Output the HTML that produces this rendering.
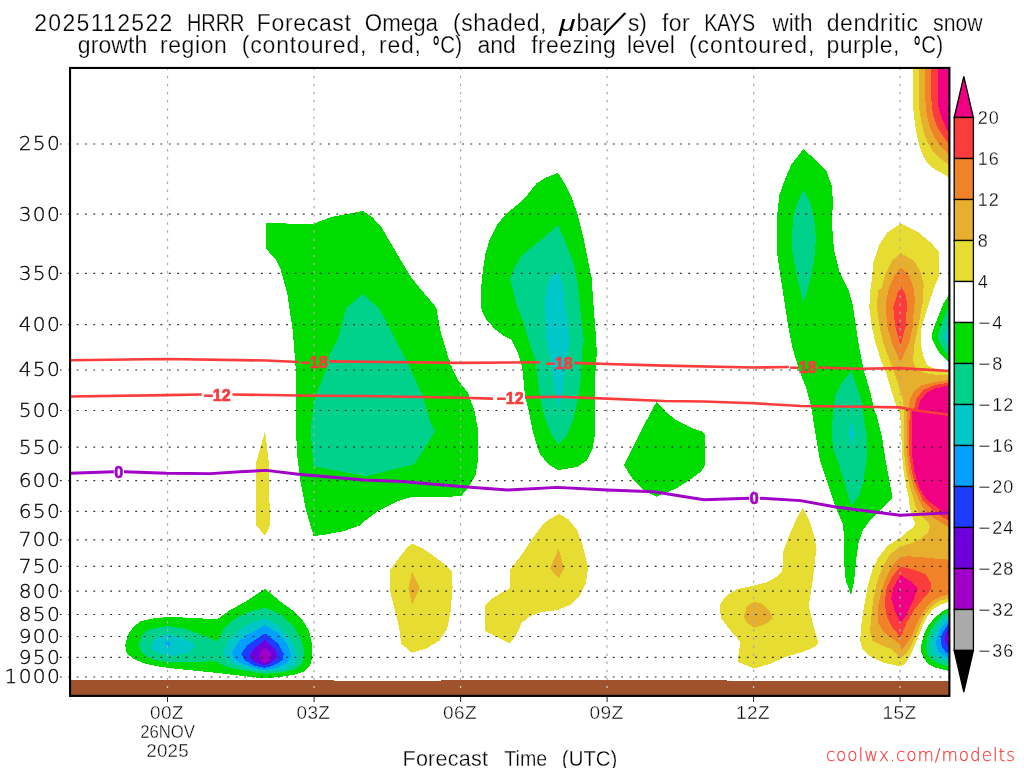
<!DOCTYPE html>
<html lang="en"><head><meta charset="utf-8"><title>HRRR Forecast Omega KAYS</title>
<style>html,body{margin:0;padding:0;background:#fff;overflow:hidden}svg{display:block}</style></head>
<body>
<svg width="1024" height="768" viewBox="0 0 1024 768">
<rect width="1024" height="768" fill="#fff"/>
<clipPath id="pa"><rect x="70.05" y="67.95" width="879.35" height="627.9499999999999"/></clipPath>
<g clip-path="url(#pa)" shape-rendering="crispEdges">
<polygon fill="#00dc00" points="125.1,644.9 128.4,634.0 133.9,626.3 140.4,621.5 151.4,618.7 166.7,617.1 186.4,617.6 206.1,618.7 218.1,618.7 230.1,609.9 245.5,601.8 265.1,588.7 282.6,603.3 293.6,611.0 302.3,619.8 308.9,630.7 311.5,641.6 312.2,656.9 310.0,665.7 304.5,671.2 295.8,674.4 282.6,676.6 265.1,678.4 247.6,676.6 221.4,673.4 199.5,671.2 177.6,669.0 160.1,666.8 144.8,663.5 133.9,659.1 126.9,653.7"/>
<polygon fill="#00d28c" points="138.3,644.9 141.5,636.2 148.1,629.6 166.7,625.9 184.2,628.5 199.5,634.0 210.4,638.3 217.0,641.6 223.6,628.5 234.5,618.7 247.6,612.1 265.1,607.7 280.5,614.3 293.6,626.3 301.2,639.4 304.5,652.6 302.3,663.5 295.8,669.0 282.6,672.3 265.1,673.8 247.6,671.2 230.1,667.9 219.2,663.5 217.0,661.3 208.3,661.3 188.6,662.4 166.7,662.4 151.4,659.1 141.5,652.6"/>
<polygon fill="#00c8c8" points="151.4,644.9 155.8,638.3 166.7,634.0 182.0,637.3 192.9,642.7 195.1,647.1 188.6,652.6 173.3,655.9 160.1,653.7 152.5,649.3"/>
<polygon fill="#00c8c8" points="223.6,652.6 227.9,641.6 238.9,630.7 252.0,621.9 265.1,618.7 278.3,625.2 289.2,637.3 295.8,648.2 298.0,656.9 294.7,664.6 284.8,669.6 265.1,671.6 247.6,669.0 232.3,663.5 225.8,658.0"/>
<polygon fill="#00a0ff" points="165.2,641.6 171.1,641.6 168.2,650.4"/>
<polygon fill="#00a0ff" points="232.3,652.6 237.8,642.7 247.6,634.0 265.1,625.2 278.3,632.9 287.0,643.8 291.4,654.8 288.1,662.4 278.3,667.4 265.1,670.1 252.0,667.4 238.9,662.4 233.4,658.0"/>
<polygon fill="#1e3cff" points="241.1,653.7 247.6,644.9 265.1,633.3 278.3,643.8 283.7,653.7 282.6,660.2 273.9,665.3 265.1,667.9 254.2,665.7 244.4,660.2"/>
<polygon fill="#6e00dc" points="249.8,654.8 254.2,648.2 265.1,639.9 275.0,649.3 277.2,655.9 275.0,660.2 265.1,665.3 255.3,662.4 250.9,659.1"/>
<polygon fill="#a000c8" points="259.0,655.9 261.9,650.4 265.1,648.2 269.5,651.5 271.7,655.9 269.5,660.2 265.1,663.1 260.8,660.9"/>
<polygon fill="#00dc00" points="265.5,223.0 289.6,223.6 313.6,223.6 331.1,217.1 362.9,210.9 372.7,217.5 381.5,227.3 392.4,245.9 409.9,275.5 423.0,291.9 436.1,307.2 440.5,331.3 451.5,368.0 448.1,355.3 452.4,368.4 459.0,381.6 467.8,392.5 474.3,410.0 477.6,427.5 477.6,462.5 475.4,475.6 468.8,486.6 461.2,496.4 411.0,497.1 396.8,501.5 379.3,510.2 367.2,519.0 359.6,525.5 344.3,531.0 324.6,534.7 313.6,536.0 306.0,510.2 300.5,481.8 297.2,455.5 295.7,422.7 295.7,368.0 292.8,331.3 287.4,294.1 280.8,270.0 275.3,259.1 265.5,248.1"/>
<polygon fill="#00d28c" points="330.0,353.1 337.7,340.0 346.4,307.2 362.9,294.1 379.3,308.3 396.8,342.2 409.9,368.0 423.0,396.4 429.6,420.5 435.0,431.4 414.3,464.3 366.1,476.3 313.6,466.4 311.4,440.2 311.4,422.7 314.7,398.6 326.8,368.0"/>
<polygon fill="#e6dc32" points="265.1,431.4 268.8,462.1 269.9,525.5 265.1,536.0 256.3,525.5 256.3,462.1"/>
<polygon fill="#00dc00" points="558.0,172.9 564.6,183.4 571.6,197.5 577.5,213.9 583.3,237.3 588.0,260.8 591.5,277.2 593.2,300.6 596.2,340.0 596.8,353.1 594.6,383.8 594.6,436.3 592.5,449.4 587.0,460.3 577.1,466.9 558.5,470.2 548.7,464.7 539.9,453.8 533.4,434.1 529.0,412.2 525.1,396.9 522.4,368.4 518.1,353.1 511.5,340.0 503.7,335.7 494.3,328.7 486.1,319.3 480.7,307.6 480.9,291.2 482.6,272.5 485.4,253.7 489.6,239.7 496.6,225.6 506.0,213.9 517.7,204.5 527.1,195.1 536.5,183.4 545.9,177.6"/>
<polygon fill="#00d28c" points="558.0,225.1 564.6,239.7 574.0,264.3 577.5,281.9 579.8,305.3 583.8,340.0 582.0,353.1 580.4,383.8 577.1,403.4 572.8,420.9 566.2,436.3 558.5,444.6 550.9,434.1 544.3,416.6 539.9,396.9 535.6,361.9 528.6,340.0 522.4,319.3 516.6,305.3 510.2,278.3 514.2,267.8 522.4,254.9 541.2,239.7"/>
<polygon fill="#00c8c8" points="558.0,272.0 562.3,281.9 564.6,300.6 567.4,321.7 569.8,340.0 566.2,361.9 562.9,390.3 558.5,408.9 555.3,390.3 550.9,361.9 546.5,340.0 544.7,300.6 547.0,286.5 550.5,277.2"/>
<polygon fill="#00dc00" points="656.4,401.9 665.6,411.7 676.6,420.5 691.9,428.1 701.7,431.4 705.0,434.7 705.0,465.3 700.6,471.9 691.9,478.4 676.6,488.3 656.4,496.6 643.8,490.5 632.8,479.5 624.1,465.3 635.0,443.4 645.9,421.6"/>
<polygon fill="#00dc00" points="803.4,149.1 813.3,157.9 826.4,171.0 831.9,186.3 832.9,201.6 831.9,223.5 834.0,249.8 839.5,271.6 848.3,289.1 852.6,304.0 855.9,325.9 859.2,347.8 863.6,369.6 870.1,391.5 874.5,411.2 876.5,414.6 881.9,436.5 885.6,460.2 889.2,480.2 892.0,494.8 892.0,498.4 880.2,510.0 869.8,520.4 862.5,530.8 858.3,543.3 856.2,560.0 854.1,580.8 851.0,595.0 845.8,580.8 844.3,564.2 844.3,543.3 843.1,524.6 838.5,514.2 832.2,497.5 826.0,478.8 819.8,460.0 814.3,426.5 811.1,406.8 806.7,389.3 799.0,369.6 792.5,347.8 788.1,325.9 784.8,304.0 780.4,276.0 777.2,254.1 777.2,214.8 779.3,195.1 784.8,179.8 791.4,164.4"/>
<polygon fill="#00d28c" points="803.4,190.3 810.0,201.6 814.3,219.1 815.9,238.8 814.3,258.5 811.1,276.0 806.7,293.5 803.4,302.3 800.1,289.1 795.8,271.6 792.5,251.9 792.0,234.4 793.6,214.8 797.9,201.6"/>
<polygon fill="#00d28c" points="851.5,370.7 857.0,387.1 861.4,400.3 863.6,417.8 866.9,435.3 866.9,457.1 866.6,460.0 863.5,480.8 859.3,495.4 851.4,505.8 847.9,495.4 842.7,476.7 837.5,460.0 832.9,448.4 831.9,430.9 832.9,413.4 835.1,395.9 841.7,382.8"/>
<polygon fill="#00c8c8" points="851.5,419.9 854.8,433.1 851.5,446.2 848.3,433.1"/>
<polygon fill="#e6dc32" points="412.1,544.0 419.8,546.7 432.9,555.4 446.0,565.3 451.5,570.7 452.6,587.1 450.4,613.4 447.1,628.7 439.4,640.7 426.3,648.4 412.1,652.8 401.2,644.0 399.0,626.5 394.6,609.0 390.2,591.5 390.2,569.6 400.1,556.5 407.7,546.7"/>
<polygon fill="#e6af2d" points="412.1,571.8 419.8,588.2 412.1,604.6 408.4,588.2"/>
<polygon fill="#e6dc32" points="558.7,513.8 568.5,519.3 577.3,530.3 582.7,545.6 588.2,567.4 586.0,582.8 579.5,595.9 570.7,604.6 557.6,610.1 540.1,612.3 529.1,616.7 521.5,623.2 516.0,635.3 509.9,643.6 498.5,637.5 485.4,631.3 485.4,605.1 494.1,597.0 509.9,588.2 509.9,569.6 520.4,556.5 533.5,536.8 544.5,522.6"/>
<polygon fill="#e6af2d" points="558.7,548.8 564.1,568.5 558.7,578.4 549.9,568.5"/>
<polygon fill="#e6dc32" points="802.7,507.5 809.3,520.4 814.5,537.1 816.6,549.6 815.2,558.2 812.5,581.9 808.8,605.6 813.4,625.7 818.5,643.0 813.4,647.5 802.4,652.1 786.0,656.7 769.6,664.0 754.1,668.5 738.3,662.1 738.6,653.0 740.5,642.1 729.5,629.3 721.3,618.4 719.5,607.4 721.3,602.0 727.7,594.7 736.8,589.2 754.1,585.6 767.8,581.9 776.9,576.5 782.4,571.0 783.3,550.9 783.3,551.7 788.5,537.1 795.8,520.4"/>
<polygon fill="#e6af2d" points="754.1,601.6 762.3,603.8 769.6,611.1 772.9,618.4 766.0,623.8 754.1,627.9 746.8,622.9 743.7,616.6 746.8,606.5"/>
<polygon fill="#e6dc32" points="900.8,223.5 918.3,232.3 931.4,243.2 939.0,251.9 939.0,276.0 933.6,289.1 929.4,302.5 924.8,316.6 920.8,330.6 920.8,343.1 923.2,355.6 927.1,365.0 937.2,369.7 949.0,371.2 950.5,371.3 950.5,602.1 948.5,602.1 941.0,604.6 933.5,609.0 927.2,616.5 922.9,625.2 918.5,636.5 914.8,645.2 911.0,654.0 906.0,662.8 900.8,666.5 883.4,662.7 870.1,656.1 862.4,649.4 860.2,640.6 861.7,620.7 864.6,603.0 867.9,585.3 872.3,569.8 879.0,556.5 887.8,545.4 900.5,537.7 906.9,531.7 913.5,527.3 915.1,524.1 914.0,520.8 911.3,514.2 909.7,506.6 909.1,500.0 906.5,487.5 903.8,472.9 902.0,454.7 901.1,427.3 900.2,414.6 895.1,402.5 891.2,390.0 886.5,374.4 881.0,360.3 875.5,343.1 871.6,325.9 869.3,307.2 870.4,290.0 871.2,284.8 873.4,262.9 878.9,245.4 887.6,232.3"/>
<polygon fill="#e6af2d" points="900.8,253.0 913.9,260.7 920.5,271.6 923.7,284.8 922.6,304.0 921.6,307.2 918.5,325.9 914.6,343.1 913.0,360.3 915.4,368.1 924.8,372.8 937.2,375.2 949.0,375.2 950.5,375.2 950.5,598.4 948.5,598.4 939.8,600.9 932.2,605.9 926.0,613.4 921.0,622.8 916.6,634.0 912.2,644.0 907.2,652.8 900.8,658.4 892.3,649.4 881.2,645.0 872.3,640.6 870.1,631.7 871.2,616.2 873.5,598.5 876.8,583.0 882.3,567.5 890.1,554.3 900.4,546.5 912.4,542.7 921.2,538.3 927.7,532.8 929.9,527.3 928.8,523.5 924.4,518.6 919.0,513.1 915.7,506.6 914.0,500.0 910.2,487.5 906.5,472.9 904.2,454.7 903.8,427.3 904.2,410.9 902.9,400.0 899.0,386.9 895.1,374.4 889.6,360.3 883.3,343.1 879.4,325.9 877.1,307.2 877.9,290.0 881.1,289.1 885.5,273.8 892.0,260.7"/>
<polygon fill="#f08228" points="900.8,267.3 909.5,276.0 913.9,289.1 915.0,304.0 913.8,307.2 913.0,325.9 909.1,343.1 900.5,361.9 891.9,343.1 887.2,325.9 885.7,307.2 885.5,304.0 888.7,289.1 894.2,276.0"/>
<polygon fill="#f08228" points="949.0,379.8 934.1,382.2 921.6,385.3 913.8,391.6 909.9,399.4 908.3,410.0 907.1,410.9 906.5,427.3 907.1,454.7 909.3,472.9 913.8,487.5 919.0,500.0 922.2,506.6 927.7,513.1 934.3,518.6 941.9,523.0 949.0,527.3 950.5,527.3 950.5,379.8"/>
<polygon fill="#f08228" points="949.0,559.6 939.7,559.1 924.4,557.4 909.1,556.3 900.4,556.9 892.3,565.3 885.6,578.6 881.2,591.9 877.9,607.4 877.9,622.9 883.4,631.7 892.3,638.4 900.5,645.0 900.8,650.9 904.8,646.5 909.8,639.0 914.8,629.0 919.8,617.8 926.0,607.8 933.5,600.2 941.0,596.5 948.5,594.6 950.5,594.6 950.5,559.6"/>
<polygon fill="#fa3c3c" points="900.8,285.9 905.1,293.5 907.3,304.0 906.8,307.2 905.7,325.9 900.5,345.5 895.1,325.9 893.2,307.2 894.2,304.0 897.5,293.5"/>
<polygon fill="#fa3c3c" points="949.0,382.5 934.1,385.3 923.2,390.0 916.9,397.8 913.8,410.0 909.8,410.9 909.3,427.3 909.3,454.7 912.0,472.9 916.6,487.5 922.9,500.3 928.8,506.6 936.5,513.1 944.1,518.0 949.0,520.8 950.5,520.8 950.5,382.5"/>
<polygon fill="#fa3c3c" points="900.5,566.4 914.4,569.8 925.5,574.2 931.0,583.0 931.0,589.7 923.3,598.5 914.4,609.6 906.7,622.9 900.5,637.3 892.3,627.3 886.7,616.2 884.5,603.0 886.7,587.5 892.3,576.4"/>
<polygon fill="#f00082" points="949.0,385.3 935.7,388.4 926.3,393.1 920.1,400.9 917.7,410.0 912.5,410.9 912.0,427.3 912.0,454.7 914.7,472.9 919.3,487.5 925.7,498.4 934.3,505.5 941.9,510.9 949.0,513.7 950.5,513.7 950.5,385.3"/>
<polygon fill="#f00082" points="900.5,575.3 910.0,580.8 917.7,588.6 912.2,603.0 905.5,616.2 900.5,623.8 894.5,609.6 891.2,598.5 893.4,587.5"/>
<polygon fill="#e6dc32" points="913.1,66.2 913.1,99.1 913.4,110.4 914.8,122.9 916.9,135.4 919.5,145.8 923.1,156.2 927.8,163.5 934.0,168.8 941.3,172.9 948.4,177.1 951.8,178.6 951.1,66.2"/>
<polygon fill="#e6af2d" points="919.1,66.2 919.1,95.9 919.5,110.4 921.0,120.8 923.6,131.2 927.3,141.7 932.0,150.0 938.2,156.8 943.4,160.9 948.4,164.1 951.8,165.8 951.1,66.2"/>
<polygon fill="#f08228" points="925.3,66.2 925.3,94.4 925.7,108.3 927.3,117.7 929.9,127.1 933.5,135.4 938.2,142.7 943.4,149.0 948.4,154.2 951.8,157.3 951.1,66.2"/>
<polygon fill="#fa3c3c" points="931.2,66.2 931.2,92.8 931.8,107.3 933.5,115.6 936.1,124.0 939.8,131.2 943.9,137.5 948.4,143.2 951.8,147.4 951.1,66.2"/>
<polygon fill="#f00082" points="937.7,66.2 937.7,92.8 938.2,106.2 940.3,113.5 942.9,120.8 946.0,127.6 948.4,132.3 951.8,135.9 951.1,66.2"/>
<polygon fill="#00dc00" points="950.5,292.9 948.7,295.2 943.4,303.4 938.2,316.3 934.1,326.9 931.7,335.1 932.3,339.8 937.6,350.3 943.4,357.3 948.7,362.0 950.5,363.2"/>
<polygon fill="#00d28c" points="950.5,303.4 948.7,306.4 945.2,314.0 940.5,326.9 937.6,337.4 941.1,345.6 945.2,351.5 948.7,355.0 950.5,356.2"/>
<polygon fill="#00c8c8" points="950.5,322.2 948.7,324.5 945.8,330.4 942.9,337.4 946.4,343.3 948.7,345.6 950.5,346.8"/>
<polygon fill="#00dc00" points="951.0,607.1 948.5,608.4 942.2,611.5 934.8,617.8 928.5,625.2 924.1,634.0 921.6,642.8 921.0,651.5 923.5,657.8 928.5,664.0 936.0,667.8 943.5,669.6 948.5,670.9 951.0,671.2"/>
<polygon fill="#00d28c" points="951.0,610.9 948.5,612.1 942.2,615.2 936.0,621.5 931.0,629.0 927.2,637.8 926.0,646.5 927.2,654.0 932.2,660.2 939.8,664.0 948.5,666.5 951.0,667.0"/>
<polygon fill="#00c8c8" points="951.0,614.6 948.5,615.9 943.5,619.0 938.5,625.2 934.1,632.8 931.6,640.2 931.0,647.8 933.5,654.0 938.5,658.4 948.5,662.1 951.0,662.8"/>
<polygon fill="#00a0ff" points="951.0,618.4 948.5,620.2 944.1,624.0 939.8,630.2 936.6,637.8 936.0,645.2 938.5,651.5 943.5,655.9 948.5,657.8 951.0,658.4"/>
<polygon fill="#1e3cff" points="951.0,621.5 948.5,624.0 944.8,629.0 941.6,635.2 940.8,641.5 942.2,647.8 946.0,652.1 948.5,653.4 951.0,654.0"/>
<polygon fill="#6e00dc" points="951.0,625.2 948.5,627.8 946.0,632.8 944.8,639.0 946.0,644.0 948.5,646.5 951.0,647.8"/>
<polygon fill="#a000c8" points="951.0,630.2 948.5,632.8 947.0,637.8 948.5,642.8 951.0,645.2"/>
</g>
<g fill="none">
<line x1="59.9" y1="144.0" x2="949.4" y2="144.0" stroke="#2a2a2a" stroke-width="1.2" stroke-dasharray="1.8 6.578"/>
<line x1="59.9" y1="214.1" x2="949.4" y2="214.1" stroke="#2a2a2a" stroke-width="1.2" stroke-dasharray="1.8 6.578"/>
<line x1="59.9" y1="273.4" x2="949.4" y2="273.4" stroke="#2a2a2a" stroke-width="1.2" stroke-dasharray="1.8 6.578"/>
<line x1="59.9" y1="324.7" x2="949.4" y2="324.7" stroke="#2a2a2a" stroke-width="1.2" stroke-dasharray="1.8 6.578"/>
<line x1="59.9" y1="370.0" x2="949.4" y2="370.0" stroke="#2a2a2a" stroke-width="1.2" stroke-dasharray="1.8 6.578"/>
<line x1="59.9" y1="410.5" x2="949.4" y2="410.5" stroke="#2a2a2a" stroke-width="1.2" stroke-dasharray="1.8 6.578"/>
<line x1="59.9" y1="447.2" x2="949.4" y2="447.2" stroke="#2a2a2a" stroke-width="1.2" stroke-dasharray="1.8 6.578"/>
<line x1="59.9" y1="480.6" x2="949.4" y2="480.6" stroke="#2a2a2a" stroke-width="1.2" stroke-dasharray="1.8 6.578"/>
<line x1="59.9" y1="511.4" x2="949.4" y2="511.4" stroke="#2a2a2a" stroke-width="1.2" stroke-dasharray="1.8 6.578"/>
<line x1="59.9" y1="539.9" x2="949.4" y2="539.9" stroke="#2a2a2a" stroke-width="1.2" stroke-dasharray="1.8 6.578"/>
<line x1="59.9" y1="566.4" x2="949.4" y2="566.4" stroke="#2a2a2a" stroke-width="1.2" stroke-dasharray="1.8 6.578"/>
<line x1="59.9" y1="591.2" x2="949.4" y2="591.2" stroke="#2a2a2a" stroke-width="1.2" stroke-dasharray="1.8 6.578"/>
<line x1="59.9" y1="614.5" x2="949.4" y2="614.5" stroke="#2a2a2a" stroke-width="1.2" stroke-dasharray="1.8 6.578"/>
<line x1="59.9" y1="636.5" x2="949.4" y2="636.5" stroke="#2a2a2a" stroke-width="1.2" stroke-dasharray="1.8 6.578"/>
<line x1="59.9" y1="657.3" x2="949.4" y2="657.3" stroke="#2a2a2a" stroke-width="1.2" stroke-dasharray="1.8 6.578"/>
<line x1="59.9" y1="677.0" x2="949.4" y2="677.0" stroke="#2a2a2a" stroke-width="1.2" stroke-dasharray="1.8 6.578"/>
<line x1="167.53" y1="67.55" x2="167.53" y2="695.9" stroke="#acacac" stroke-width="1.2" stroke-dasharray="2.5 5.6375"/>
<line x1="314.05" y1="67.55" x2="314.05" y2="695.9" stroke="#acacac" stroke-width="1.2" stroke-dasharray="2.5 5.6375"/>
<line x1="460.57" y1="67.55" x2="460.57" y2="695.9" stroke="#acacac" stroke-width="1.2" stroke-dasharray="2.5 5.6375"/>
<line x1="607.09" y1="67.55" x2="607.09" y2="695.9" stroke="#acacac" stroke-width="1.2" stroke-dasharray="2.5 5.6375"/>
<line x1="753.61" y1="67.55" x2="753.61" y2="695.9" stroke="#acacac" stroke-width="1.2" stroke-dasharray="2.5 5.6375"/>
<line x1="900.13" y1="67.55" x2="900.13" y2="695.9" stroke="#acacac" stroke-width="1.2" stroke-dasharray="2.5 5.6375"/>
</g>
<g clip-path="url(#pa)">
<polyline points="69,360.2 166.5,359 266.2,360.5 298.4,362" fill="none" stroke="#fa3c3c" stroke-width="2.6" stroke-linejoin="round" stroke-linecap="butt"/>
<polyline points="329.2,361.4 364,361.7 460.7,362.9 539.8,362.3" fill="none" stroke="#fa3c3c" stroke-width="2.6" stroke-linejoin="round" stroke-linecap="butt"/>
<polyline points="574.4,362.9 607.2,364 664,365.6 753.6,367.5 788.8,367" fill="none" stroke="#fa3c3c" stroke-width="2.6" stroke-linejoin="round" stroke-linecap="butt"/>
<polyline points="818,367.5 859,368.7 900,368.1 950,371" fill="none" stroke="#fa3c3c" stroke-width="2.6" stroke-linejoin="round" stroke-linecap="butt"/>
<polyline points="69,396.5 166.5,395.1 201.7,394.5" fill="none" stroke="#fa3c3c" stroke-width="2.6" stroke-linejoin="round" stroke-linecap="butt"/>
<polyline points="232.5,394.5 316,395.7 364,396 460.7,397.7 492.9,398.6" fill="none" stroke="#fa3c3c" stroke-width="2.6" stroke-linejoin="round" stroke-linecap="butt"/>
<polyline points="525.1,397.4 558.8,396.8 607.2,398.6 664,401 703.8,401.5 753.6,403.3 800.5,406 859,406.8 900,407.4 911.8,409.7 950,415" fill="none" stroke="#fa3c3c" stroke-width="2.6" stroke-linejoin="round" stroke-linecap="butt"/>
<polyline points="69,473.3 113.8,471.8" fill="none" stroke="#a000c8" stroke-width="2.9" stroke-linejoin="round" stroke-linecap="butt"/>
<polyline points="124,471.8 166.5,473.3 210.5,473.6 239.8,471.8 266.2,470.4 298.4,474.2 364,480 402,481.5 460.7,486.5 507.6,490 557.4,487.4 607.2,490 654,491.8 703.8,499.7 749.2,498.2" fill="none" stroke="#a000c8" stroke-width="2.9" stroke-linejoin="round" stroke-linecap="butt"/>
<polyline points="760,498.2 800.5,500.6 835.7,507 859,510 900,515.2 950,512.9" fill="none" stroke="#a000c8" stroke-width="2.9" stroke-linejoin="round" stroke-linecap="butt"/>
</g>
<text x="314" y="367.6" font-family="'Liberation Sans', sans-serif" font-weight="bold" font-size="16" fill="#fa3c3c" stroke="#fa3c3c" stroke-width="0.7" stroke-linejoin="round" text-anchor="middle">−18</text>
<text x="559.2" y="368.6" font-family="'Liberation Sans', sans-serif" font-weight="bold" font-size="16" fill="#fa3c3c" stroke="#fa3c3c" stroke-width="0.7" stroke-linejoin="round" text-anchor="middle">−18</text>
<text x="803" y="372.7" font-family="'Liberation Sans', sans-serif" font-weight="bold" font-size="16" fill="#fa3c3c" stroke="#fa3c3c" stroke-width="0.7" stroke-linejoin="round" text-anchor="middle">−18</text>
<text x="217" y="400.7" font-family="'Liberation Sans', sans-serif" font-weight="bold" font-size="16" fill="#fa3c3c" stroke="#fa3c3c" stroke-width="0.7" stroke-linejoin="round" text-anchor="middle">−12</text>
<text x="510" y="404.3" font-family="'Liberation Sans', sans-serif" font-weight="bold" font-size="16" fill="#fa3c3c" stroke="#fa3c3c" stroke-width="0.7" stroke-linejoin="round" text-anchor="middle">−12</text>
<text x="118.8" y="477.5" font-family="'Liberation Sans', sans-serif" font-weight="bold" font-size="16" fill="#a000c8" stroke="#a000c8" stroke-width="0.7" stroke-linejoin="round" text-anchor="middle">0</text>
<text x="754.3" y="503.9" font-family="'Liberation Sans', sans-serif" font-weight="bold" font-size="16" fill="#a000c8" stroke="#a000c8" stroke-width="0.7" stroke-linejoin="round" text-anchor="middle">0</text>
<polygon fill="#a0522d" shape-rendering="crispEdges" points="70.05,679.7 334,679.7 334,680.8 441,680.8 441,679.7 727,679.7 727,680.7 949.4,680.7 949.4,695.9 70.05,695.9"/>
<line x1="167.5" y1="686" x2="167.5" y2="688" stroke="#c8c8c8" stroke-width="1.3"/>
<line x1="314.1" y1="686" x2="314.1" y2="688" stroke="#c8c8c8" stroke-width="1.3"/>
<line x1="460.6" y1="686" x2="460.6" y2="688" stroke="#c8c8c8" stroke-width="1.3"/>
<line x1="607.1" y1="686" x2="607.1" y2="688" stroke="#c8c8c8" stroke-width="1.3"/>
<line x1="753.6" y1="686" x2="753.6" y2="688" stroke="#c8c8c8" stroke-width="1.3"/>
<line x1="900.1" y1="686" x2="900.1" y2="688" stroke="#c8c8c8" stroke-width="1.3"/>
<rect x="70.05" y="67.95" width="879.35" height="627.9499999999999" fill="none" stroke="#000" stroke-width="2.1"/>
<line x1="167.5" y1="695.9" x2="167.5" y2="702" stroke="#222" stroke-width="1.0"/>
<line x1="314.1" y1="695.9" x2="314.1" y2="702" stroke="#222" stroke-width="1.0"/>
<line x1="460.6" y1="695.9" x2="460.6" y2="702" stroke="#222" stroke-width="1.0"/>
<line x1="607.1" y1="695.9" x2="607.1" y2="702" stroke="#222" stroke-width="1.0"/>
<line x1="753.6" y1="695.9" x2="753.6" y2="702" stroke="#222" stroke-width="1.0"/>
<line x1="900.1" y1="695.9" x2="900.1" y2="702" stroke="#222" stroke-width="1.0"/>
<g stroke="#000" stroke-width="1.3" stroke-linejoin="miter">
<polygon fill="#f00082" points="954.2,117.5 963.8,76.5 973.4,117.5"/>
<rect x="954.2" y="117.5" width="19.2" height="41.0" fill="#fa3c3c"/>
<rect x="954.2" y="158.5" width="19.2" height="41.0" fill="#f08228"/>
<rect x="954.2" y="199.5" width="19.2" height="41.0" fill="#e6af2d"/>
<rect x="954.2" y="240.5" width="19.2" height="41.0" fill="#e6dc32"/>
<rect x="954.2" y="281.5" width="19.2" height="41.0" fill="#fff"/>
<rect x="954.2" y="322.5" width="19.2" height="41.0" fill="#00dc00"/>
<rect x="954.2" y="363.5" width="19.2" height="41.0" fill="#00d28c"/>
<rect x="954.2" y="404.5" width="19.2" height="41.0" fill="#00c8c8"/>
<rect x="954.2" y="445.5" width="19.2" height="41.0" fill="#00a0ff"/>
<rect x="954.2" y="486.5" width="19.2" height="41.0" fill="#1e3cff"/>
<rect x="954.2" y="527.5" width="19.2" height="41.0" fill="#6e00dc"/>
<rect x="954.2" y="568.5" width="19.2" height="41.0" fill="#a000c8"/>
<rect x="954.2" y="609.5" width="19.2" height="41.0" fill="#aaaaaa"/>
<polygon fill="#000" points="954.2,650.5 963.8,692 973.4,650.5"/>
</g>
<text x="61.0" y="150.4" font-size="20.2" fill="#000" font-family="'DejaVu Sans Light', sans-serif" text-anchor="end" font-weight="200" letter-spacing="1.25" stroke="#000" stroke-width="0.3">250</text>
<text x="61.0" y="220.5" font-size="20.2" fill="#000" font-family="'DejaVu Sans Light', sans-serif" text-anchor="end" font-weight="200" letter-spacing="1.25" stroke="#000" stroke-width="0.3">300</text>
<text x="61.0" y="279.8" font-size="20.2" fill="#000" font-family="'DejaVu Sans Light', sans-serif" text-anchor="end" font-weight="200" letter-spacing="1.25" stroke="#000" stroke-width="0.3">350</text>
<text x="61.0" y="331.1" font-size="20.2" fill="#000" font-family="'DejaVu Sans Light', sans-serif" text-anchor="end" font-weight="200" letter-spacing="1.25" stroke="#000" stroke-width="0.3">400</text>
<text x="61.0" y="376.4" font-size="20.2" fill="#000" font-family="'DejaVu Sans Light', sans-serif" text-anchor="end" font-weight="200" letter-spacing="1.25" stroke="#000" stroke-width="0.3">450</text>
<text x="61.0" y="416.9" font-size="20.2" fill="#000" font-family="'DejaVu Sans Light', sans-serif" text-anchor="end" font-weight="200" letter-spacing="1.25" stroke="#000" stroke-width="0.3">500</text>
<text x="61.0" y="453.6" font-size="20.2" fill="#000" font-family="'DejaVu Sans Light', sans-serif" text-anchor="end" font-weight="200" letter-spacing="1.25" stroke="#000" stroke-width="0.3">550</text>
<text x="61.0" y="487.0" font-size="20.2" fill="#000" font-family="'DejaVu Sans Light', sans-serif" text-anchor="end" font-weight="200" letter-spacing="1.25" stroke="#000" stroke-width="0.3">600</text>
<text x="61.0" y="517.8" font-size="20.2" fill="#000" font-family="'DejaVu Sans Light', sans-serif" text-anchor="end" font-weight="200" letter-spacing="1.25" stroke="#000" stroke-width="0.3">650</text>
<text x="61.0" y="546.3" font-size="20.2" fill="#000" font-family="'DejaVu Sans Light', sans-serif" text-anchor="end" font-weight="200" letter-spacing="1.25" stroke="#000" stroke-width="0.3">700</text>
<text x="61.0" y="572.8" font-size="20.2" fill="#000" font-family="'DejaVu Sans Light', sans-serif" text-anchor="end" font-weight="200" letter-spacing="1.25" stroke="#000" stroke-width="0.3">750</text>
<text x="61.0" y="597.6" font-size="20.2" fill="#000" font-family="'DejaVu Sans Light', sans-serif" text-anchor="end" font-weight="200" letter-spacing="1.25" stroke="#000" stroke-width="0.3">800</text>
<text x="61.0" y="620.9" font-size="20.2" fill="#000" font-family="'DejaVu Sans Light', sans-serif" text-anchor="end" font-weight="200" letter-spacing="1.25" stroke="#000" stroke-width="0.3">850</text>
<text x="61.0" y="642.9" font-size="20.2" fill="#000" font-family="'DejaVu Sans Light', sans-serif" text-anchor="end" font-weight="200" letter-spacing="1.25" stroke="#000" stroke-width="0.3">900</text>
<text x="61.0" y="663.7" font-size="20.2" fill="#000" font-family="'DejaVu Sans Light', sans-serif" text-anchor="end" font-weight="200" letter-spacing="1.25" stroke="#000" stroke-width="0.3">950</text>
<text x="61.0" y="683.4" font-size="20.2" fill="#000" font-family="'DejaVu Sans Light', sans-serif" text-anchor="end" font-weight="200" letter-spacing="1.25" stroke="#000" stroke-width="0.3">1000</text>
<text x="977.7" y="124.1" font-size="18" fill="#000" font-family="'Liberation Sans', sans-serif" stroke="#fff" stroke-width="0.3" paint-order="fill" letter-spacing="1.0">20</text>
<text x="977.7" y="165.1" font-size="18" fill="#000" font-family="'Liberation Sans', sans-serif" stroke="#fff" stroke-width="0.3" paint-order="fill" letter-spacing="1.0">16</text>
<text x="977.7" y="206.1" font-size="18" fill="#000" font-family="'Liberation Sans', sans-serif" stroke="#fff" stroke-width="0.3" paint-order="fill" letter-spacing="1.0">12</text>
<text x="977.7" y="247.1" font-size="18" fill="#000" font-family="'Liberation Sans', sans-serif" stroke="#fff" stroke-width="0.3" paint-order="fill" letter-spacing="1.0">8</text>
<text x="977.7" y="288.1" font-size="18" fill="#000" font-family="'Liberation Sans', sans-serif" stroke="#fff" stroke-width="0.3" paint-order="fill" letter-spacing="1.0">4</text>
<text font-family="'Liberation Sans', sans-serif" fill="#000"><tspan x="978.2" y="329.1" font-size="18" textLength="12.2" lengthAdjust="spacingAndGlyphs" stroke="#fff" stroke-width="0.3" paint-order="fill">−</tspan><tspan x="992.3" y="329.1" font-size="18" stroke="#fff" stroke-width="0.3" paint-order="fill" letter-spacing="1.0">4</tspan></text>
<text font-family="'Liberation Sans', sans-serif" fill="#000"><tspan x="978.2" y="370.1" font-size="18" textLength="12.2" lengthAdjust="spacingAndGlyphs" stroke="#fff" stroke-width="0.3" paint-order="fill">−</tspan><tspan x="992.3" y="370.1" font-size="18" stroke="#fff" stroke-width="0.3" paint-order="fill" letter-spacing="1.0">8</tspan></text>
<text font-family="'Liberation Sans', sans-serif" fill="#000"><tspan x="978.2" y="411.1" font-size="18" textLength="12.2" lengthAdjust="spacingAndGlyphs" stroke="#fff" stroke-width="0.3" paint-order="fill">−</tspan><tspan x="992.3" y="411.1" font-size="18" stroke="#fff" stroke-width="0.3" paint-order="fill" letter-spacing="1.0">12</tspan></text>
<text font-family="'Liberation Sans', sans-serif" fill="#000"><tspan x="978.2" y="452.1" font-size="18" textLength="12.2" lengthAdjust="spacingAndGlyphs" stroke="#fff" stroke-width="0.3" paint-order="fill">−</tspan><tspan x="992.3" y="452.1" font-size="18" stroke="#fff" stroke-width="0.3" paint-order="fill" letter-spacing="1.0">16</tspan></text>
<text font-family="'Liberation Sans', sans-serif" fill="#000"><tspan x="978.2" y="493.1" font-size="18" textLength="12.2" lengthAdjust="spacingAndGlyphs" stroke="#fff" stroke-width="0.3" paint-order="fill">−</tspan><tspan x="992.3" y="493.1" font-size="18" stroke="#fff" stroke-width="0.3" paint-order="fill" letter-spacing="1.0">20</tspan></text>
<text font-family="'Liberation Sans', sans-serif" fill="#000"><tspan x="978.2" y="534.1" font-size="18" textLength="12.2" lengthAdjust="spacingAndGlyphs" stroke="#fff" stroke-width="0.3" paint-order="fill">−</tspan><tspan x="992.3" y="534.1" font-size="18" stroke="#fff" stroke-width="0.3" paint-order="fill" letter-spacing="1.0">24</tspan></text>
<text font-family="'Liberation Sans', sans-serif" fill="#000"><tspan x="978.2" y="575.1" font-size="18" textLength="12.2" lengthAdjust="spacingAndGlyphs" stroke="#fff" stroke-width="0.3" paint-order="fill">−</tspan><tspan x="992.3" y="575.1" font-size="18" stroke="#fff" stroke-width="0.3" paint-order="fill" letter-spacing="1.0">28</tspan></text>
<text font-family="'Liberation Sans', sans-serif" fill="#000"><tspan x="978.2" y="616.1" font-size="18" textLength="12.2" lengthAdjust="spacingAndGlyphs" stroke="#fff" stroke-width="0.3" paint-order="fill">−</tspan><tspan x="992.3" y="616.1" font-size="18" stroke="#fff" stroke-width="0.3" paint-order="fill" letter-spacing="1.0">32</tspan></text>
<text font-family="'Liberation Sans', sans-serif" fill="#000"><tspan x="978.2" y="657.1" font-size="18" textLength="12.2" lengthAdjust="spacingAndGlyphs" stroke="#fff" stroke-width="0.3" paint-order="fill">−</tspan><tspan x="992.3" y="657.1" font-size="18" stroke="#fff" stroke-width="0.3" paint-order="fill" letter-spacing="1.0">36</tspan></text>
<text x="166.9" y="718.8" font-size="19" fill="#000" font-family="'Liberation Sans', sans-serif" text-anchor="middle" stroke="#fff" stroke-width="0.4" paint-order="fill" letter-spacing="0.4">00Z</text>
<text x="313.4" y="718.8" font-size="19" fill="#000" font-family="'Liberation Sans', sans-serif" text-anchor="middle" stroke="#fff" stroke-width="0.4" paint-order="fill" letter-spacing="0.4">03Z</text>
<text x="460.0" y="718.8" font-size="19" fill="#000" font-family="'Liberation Sans', sans-serif" text-anchor="middle" stroke="#fff" stroke-width="0.4" paint-order="fill" letter-spacing="0.4">06Z</text>
<text x="606.5" y="718.8" font-size="19" fill="#000" font-family="'Liberation Sans', sans-serif" text-anchor="middle" stroke="#fff" stroke-width="0.4" paint-order="fill" letter-spacing="0.4">09Z</text>
<text x="753.0" y="718.8" font-size="19" fill="#000" font-family="'Liberation Sans', sans-serif" text-anchor="middle" stroke="#fff" stroke-width="0.4" paint-order="fill" letter-spacing="0.4">12Z</text>
<text x="899.5" y="718.8" font-size="19" fill="#000" font-family="'Liberation Sans', sans-serif" text-anchor="middle" stroke="#fff" stroke-width="0.4" paint-order="fill" letter-spacing="0.4">15Z</text>
<text x="140.2" y="738.0" font-size="18.8" fill="#000" font-family="'Liberation Sans', sans-serif" textLength="54.8" lengthAdjust="spacingAndGlyphs" stroke="#fff" stroke-width="0.4" paint-order="fill" >26NOV</text>
<text x="167.6" y="757.0" font-size="18.8" fill="#000" font-family="'Liberation Sans', sans-serif" text-anchor="middle" stroke="#fff" stroke-width="0.4" paint-order="fill" letter-spacing="0.2">2025</text>
<text font-family="'Liberation Sans', sans-serif" fill="#000"><tspan x="402.46" y="765.5" font-size="21.6" stroke="#fff" stroke-width="0.3" paint-order="fill" letter-spacing="0.234">Forecast</tspan> <tspan x="504.3" y="765.5" font-size="21.6" textLength="42.88" lengthAdjust="spacingAndGlyphs" stroke="#fff" stroke-width="0.3" paint-order="fill">Time</tspan> <tspan x="561.86" y="765.5" font-size="21.6" textLength="55.52" lengthAdjust="spacingAndGlyphs" stroke="#fff" stroke-width="0.3" paint-order="fill">(UTC)</tspan></text>
<text x="825.9" y="760.8" font-size="16.8" fill="#fa3c3c" font-family="'DejaVu Sans Light', sans-serif" textLength="189.0" lengthAdjust="spacing" font-weight="200" stroke="#fa3c3c" stroke-width="0.25">coolwx.com/modelts</text>
<text font-family="'Liberation Sans', sans-serif" fill="#000"><tspan x="34.25" y="30.6" font-size="23" stroke="#fff" stroke-width="0.25" paint-order="fill" letter-spacing="1.315">2025112522</tspan> <tspan x="186.88" y="30.6" font-size="23" textLength="57.65" lengthAdjust="spacingAndGlyphs" stroke="#fff" stroke-width="0.25" paint-order="fill">HRRR</tspan> <tspan x="256.75" y="30.6" font-size="23" stroke="#fff" stroke-width="0.25" paint-order="fill" letter-spacing="0.667">Forecast</tspan> <tspan x="364.78" y="30.6" font-size="23" textLength="73.27" lengthAdjust="spacingAndGlyphs" stroke="#fff" stroke-width="0.25" paint-order="fill">Omega</tspan> <tspan x="453.0" y="30.6" font-size="23" stroke="#fff" stroke-width="0.25" paint-order="fill" letter-spacing="0.555">(shaded,</tspan> <tspan x="559.0" y="30.6" font-size="23" textLength="16.5" lengthAdjust="spacingAndGlyphs" font-style="italic">μ</tspan><tspan x="576.5" y="30.6" font-size="23" stroke="#fff" stroke-width="0.25" paint-order="fill" letter-spacing="0.208">bar</tspan><tspan x="602.3" y="34.3" font-size="42" stroke="#fff" stroke-width="1.0" paint-order="fill" rotate="29">/</tspan><tspan x="628.0" y="30.6" font-size="23" textLength="18.9" lengthAdjust="spacingAndGlyphs" stroke="#fff" stroke-width="0.25" paint-order="fill">s)</tspan> <tspan x="662.0" y="30.6" font-size="23" stroke="#fff" stroke-width="0.25" paint-order="fill" letter-spacing="0.409">for</tspan> <tspan x="704.14" y="30.6" font-size="23" textLength="51.15" lengthAdjust="spacingAndGlyphs" stroke="#fff" stroke-width="0.25" paint-order="fill">KAYS</tspan> <tspan x="772.48" y="30.6" font-size="23" textLength="40.05" lengthAdjust="spacingAndGlyphs" stroke="#fff" stroke-width="0.25" paint-order="fill">with</tspan> <tspan x="826.75" y="30.6" font-size="23" stroke="#fff" stroke-width="0.25" paint-order="fill" letter-spacing="0.539">dendritic</tspan> <tspan x="933.0" y="30.6" font-size="23" textLength="49.64" lengthAdjust="spacingAndGlyphs" stroke="#fff" stroke-width="0.25" paint-order="fill">snow</tspan></text>
<text font-family="'Liberation Sans', sans-serif" fill="#000"><tspan x="77.75" y="53.2" font-size="23" stroke="#fff" stroke-width="0.25" paint-order="fill" letter-spacing="0.102">growth</tspan> <tspan x="160.0" y="53.2" font-size="23" stroke="#fff" stroke-width="0.25" paint-order="fill" letter-spacing="0.571">region</tspan> <tspan x="241.75" y="53.2" font-size="23" stroke="#fff" stroke-width="0.25" paint-order="fill" letter-spacing="0.829">(contoured,</tspan> <tspan x="379.0" y="53.2" font-size="23" stroke="#fff" stroke-width="0.25" paint-order="fill" letter-spacing="0.753">red,</tspan> <tspan x="432.6" y="58.6" font-size="34" textLength="7.35" lengthAdjust="spacingAndGlyphs" stroke="#000" stroke-width="0.25">°</tspan><tspan x="440.36" y="53.2" font-size="23" textLength="21.63" lengthAdjust="spacingAndGlyphs" stroke="#fff" stroke-width="0.25" paint-order="fill">C)</tspan> <tspan x="477.5" y="53.2" font-size="23" textLength="38.29" lengthAdjust="spacingAndGlyphs" stroke="#fff" stroke-width="0.25" paint-order="fill">and</tspan> <tspan x="531.25" y="53.2" font-size="23" stroke="#fff" stroke-width="0.25" paint-order="fill" letter-spacing="0.388">freezing</tspan> <tspan x="627.0" y="53.2" font-size="23" stroke="#fff" stroke-width="0.25" paint-order="fill" letter-spacing="0.139">level</tspan> <tspan x="689.0" y="53.2" font-size="23" stroke="#fff" stroke-width="0.25" paint-order="fill" letter-spacing="0.904">(contoured,</tspan> <tspan x="826.5" y="53.2" font-size="23" stroke="#fff" stroke-width="0.25" paint-order="fill" letter-spacing="0.427">purple,</tspan> <tspan x="913.6" y="58.6" font-size="34" textLength="7.35" lengthAdjust="spacingAndGlyphs" stroke="#000" stroke-width="0.25">°</tspan><tspan x="921.36" y="53.2" font-size="23" textLength="21.63" lengthAdjust="spacingAndGlyphs" stroke="#fff" stroke-width="0.25" paint-order="fill">C)</tspan></text>
</svg>
</body></html>
